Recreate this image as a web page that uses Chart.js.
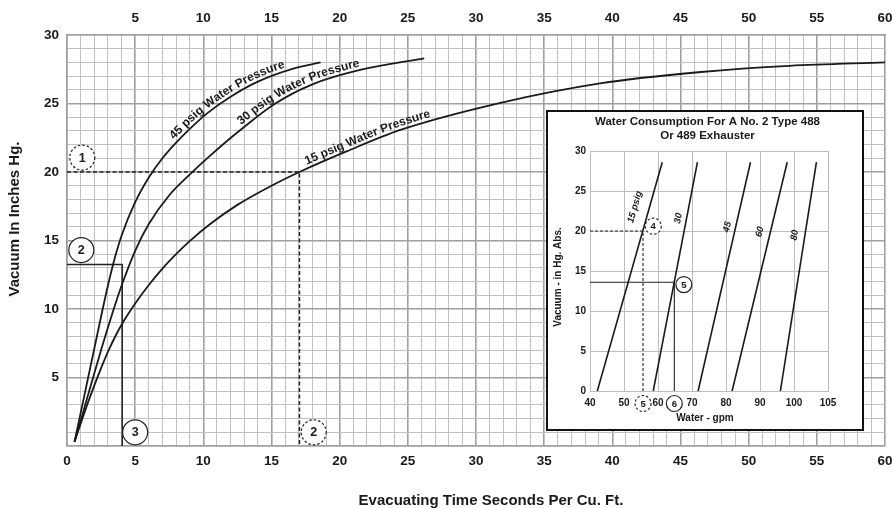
<!DOCTYPE html>
<html lang="en">
<head>
    <meta charset="UTF-8">
    <title>Evacuating Time vs Vacuum</title>
    <script src="https://cdn.jsdelivr.net/npm/chart.js"></script>
    <style>
        body {
            margin: 0;
            background: #fff;
        }
        .wrap {
            position: relative;
            width: 892px;
            height: 508px;
        }
        #mainChart {
            position: absolute;
            left: 0;
            top: 0;
        }
        .inset {
            position: absolute;
            left: 546px;
            top: 110px;
            width: 318px;
            height: 321px;
            box-sizing: border-box;
            border: 2px solid #111;
            background: #fff;
        }
        #insetChart {
            display: block;
        }
    </style>
</head>
<body>
    <div class="wrap">
        <canvas id="mainChart" width="892" height="508"></canvas>
        <div class="inset"><canvas id="insetChart" width="314" height="317"></canvas></div>
    </div>

    <script>
        // ---- main chart data (seconds per cu. ft. vs vacuum in. Hg) ----
        const curveNames = ['45 psig Water Pressure', '30 psig Water Pressure', '15 psig Water Pressure'];
        const time45 = [0.55, 1.0, 1.5, 2.0, 2.5, 3.0, 3.5, 4.0, 5.0, 6.0, 7.0, 8.5, 10.3, 12.0, 14.0, 16.6, 18.6];
        const vac45  = [0.3, 2.4, 4.75, 7.1, 9.45, 11.7, 13.7, 15.35, 17.8, 19.6, 21.0, 22.65, 24.3, 25.5, 26.6, 27.55, 28.0];
        const time30 = [0.55, 1.0, 1.5, 2.0, 2.5, 3.0, 3.5, 4.0, 5.0, 6.0, 7.5, 9.17, 10.5, 12.6, 15.2, 18.0, 21.5, 26.2];
        const vac30  = [0.3, 1.85, 3.57, 5.3, 7.0, 8.65, 10.22, 11.7, 14.25, 16.2, 18.3, 19.97, 21.19, 22.97, 24.95, 26.4, 27.45, 28.3];
        const time15 = [0.55, 1.0, 1.5, 2.0, 2.5, 3.0, 3.5, 4.0, 5.0, 6.0, 7.0, 8.0, 9.0, 10.5, 12.5, 15.0, 17.05, 20.5, 24.45, 31.8, 39.1, 46.5, 53.0, 60.0];
        const vac15  = [0.3, 1.63, 3.06, 4.41, 5.69, 6.87, 7.92, 8.85, 10.4, 11.75, 12.95, 14.0, 14.95, 16.2, 17.6, 19.0, 20.0, 21.5, 23.07, 25.05, 26.47, 27.3, 27.75, 28.0];

        // worked example guide lines
        const dashedGuideTime = [0, 17.05, 17.05];
        const dashedGuideVac  = [20, 20, 0];
        const solidGuideTime  = [0, 4.05, 4.05];
        const solidGuideVac   = [13.25, 13.25, 0];

        // numbered step markers
        const markerText   = ['1', '2', '3', '2'];
        const markerTime   = [1.12, 1.05, 5.0, 18.1];
        const markerVac    = [21.05, 14.3, 1.0, 1.0];
        const markerDashed = [true, false, false, true];

        // tick labels
        const xBottomLabels = ['0', '5', '10', '15', '20', '25', '30', '35', '40', '45', '50', '55', '60'];
        const xTopLabels    = ['5', '10', '15', '20', '25', '30', '35', '40', '45', '50', '55', '60'];
        const yLabels       = ['5', '10', '15', '20', '25', '30'];

        // ---- inset data (water consumption) ----
        const insetNames   = ['15 psig', '30', '45', '60', '80'];
        const insetGpmLow  = [42.15, 58.6, 71.8, 81.8, 96.0];
        const insetGpmHigh = [61.25, 71.6, 87.2, 98.0, 106.6];
        const insetVacLow  = 0;
        const insetVacHigh = 28.6;
        const insetNameGpm = [53.2, 66.0, 80.4, 90.0, 100.2];
        const insetNameVac = [23.0, 21.6, 20.5, 19.9, 19.5];
        const insetDashedGpm = [40, 55.6, 55.6];
        const insetDashedVac = [20, 20, 0];
        const insetSolidGpm  = [40, 64.8, 64.8];
        const insetSolidVac  = [13.6, 13.6, 0];
        const insetMarkerText   = ['4', '5'];
        const insetMarkerGpm    = [58.6, 67.6];
        const insetMarkerVac    = [20.6, 13.3];
        const insetMarkerDashed = [true, false];
        const insetAxisMarkerText   = ['5', '6'];
        const insetAxisMarkerGpm    = [55.6, 64.8];
        const insetAxisMarkerDashed = [true, false];
        const insetXTicks      = [40, 50, 60, 70, 80, 90, 100, 110];
        const insetXTickLabels = ['40', '50', '60', '70', '80', '90', '100', '105'];
        const insetYTickLabels = ['0', '5', '10', '15', '20', '25', '30'];

        const FONT = '"Liberation Sans", Arial, Helvetica, sans-serif';
        const INK = '#1a1a1a';
        const GRID_MINOR = '#c2c2c2';
        const GRID_MAJOR = '#a0a0a0';

        const toPoints = (xs, ys) => xs.map((x, i) => ({ x: x, y: ys[i] }));

        function drawMarker(ctx, x, y, r, text, dashed, fontSize) {
            ctx.save();
            ctx.beginPath();
            ctx.arc(x, y, r, 0, Math.PI * 2);
            ctx.fillStyle = '#fff';
            ctx.fill();
            ctx.lineWidth = 1.2;
            ctx.strokeStyle = '#222';
            ctx.setLineDash(dashed ? [2.5, 2] : []);
            ctx.stroke();
            ctx.setLineDash([]);
            ctx.fillStyle = INK;
            ctx.font = 'bold ' + fontSize + 'px ' + FONT;
            ctx.textAlign = 'center';
            ctx.textBaseline = 'middle';
            ctx.fillText(text, x, y + 0.5);
            ctx.restore();
        }

        // sample the drawn bezier path of a line dataset
        function curvePolyline(pts) {
            const out = [];
            for (let i = 0; i < pts.length - 1; i++) {
                const a = pts[i], b = pts[i + 1];
                const c1x = a.cp2x ?? a.x, c1y = a.cp2y ?? a.y;
                const c2x = b.cp1x ?? b.x, c2y = b.cp1y ?? b.y;
                for (let k = 0; k < 16; k++) {
                    const t = k / 16, u = 1 - t;
                    out.push({
                        x: u * u * u * a.x + 3 * u * u * t * c1x + 3 * u * t * t * c2x + t * t * t * b.x,
                        y: u * u * u * a.y + 3 * u * u * t * c1y + 3 * u * t * t * c2y + t * t * t * b.y
                    });
                }
            }
            const last = pts[pts.length - 1];
            out.push({ x: last.x, y: last.y });
            return out;
        }

        function pointAt(poly, cum, s) {
            let i = 1;
            while (i < poly.length - 1 && cum[i] < s) i++;
            const a = poly[i - 1], b = poly[i];
            const seg = (cum[i] - cum[i - 1]) || 1;
            const t = (s - cum[i - 1]) / seg;
            return { x: a.x + (b.x - a.x) * t, y: a.y + (b.y - a.y) * t, ang: Math.atan2(b.y - a.y, b.x - a.x) };
        }

        // curve labels written along the curves
        const curveLabelStart = [8.0, 12.9, 17.6];

        const mainDecor = {
            id: 'mainDecor',
            afterDatasetsDraw(chart) {
                const ctx = chart.ctx;
                const xs = chart.scales.x, ys = chart.scales.y;

                // text along curves
                ctx.save();
                ctx.fillStyle = INK;
                ctx.font = 'bold 12px ' + FONT;
                ctx.textAlign = 'center';
                ctx.textBaseline = 'alphabetic';
                curveNames.forEach((name, d) => {
                    const poly = curvePolyline(chart.getDatasetMeta(d).data);
                    const cum = [0];
                    for (let i = 1; i < poly.length; i++) {
                        cum.push(cum[i - 1] + Math.hypot(poly[i].x - poly[i - 1].x, poly[i].y - poly[i - 1].y));
                    }
                    const startPx = xs.getPixelForValue(curveLabelStart[d]);
                    let j = 0;
                    while (j < poly.length - 1 && poly[j].x < startPx) j++;
                    let s = cum[j];
                    for (const ch of name) {
                        const w = ctx.measureText(ch).width;
                        const p = pointAt(poly, cum, s + w / 2);
                        const nx = Math.sin(p.ang), ny = -Math.cos(p.ang);
                        ctx.save();
                        ctx.translate(p.x + nx * 3.5, p.y + ny * 3.5);
                        ctx.rotate(p.ang);
                        ctx.fillText(ch, 0, 0);
                        ctx.restore();
                        s += w;
                    }
                });
                ctx.restore();

                // step markers
                markerText.forEach((t, i) => {
                    drawMarker(ctx, xs.getPixelForValue(markerTime[i]), ys.getPixelForValue(markerVac[i]), 12.5, t, markerDashed[i], 12.5);
                });
            },
            afterDraw(chart) {
                const ctx = chart.ctx;
                ctx.save();
                ctx.fillStyle = INK;
                ctx.font = 'bold 15px ' + FONT;
                ctx.textAlign = 'center';
                ctx.textBaseline = 'alphabetic';
                ctx.fillText('Evacuating Time Seconds Per Cu. Ft.', 491, 505);
                ctx.translate(19, 219);
                ctx.rotate(-Math.PI / 2);
                ctx.fillText('Vacuum In Inches Hg.', 0, 0);
                ctx.restore();
            }
        };

        const gridColor = c => (c.tick && c.tick.value % 5 === 0) ? GRID_MAJOR : GRID_MINOR;
        const gridWidth = c => (c.tick && c.tick.value % 5 === 0) ? 1.6 : 1;
        const tickFont = { family: FONT, size: 13.5, weight: 'bold' };

        const curveStyle = { borderColor: INK, borderWidth: 1.8, pointRadius: 0, fill: false, cubicInterpolationMode: 'monotone' };
        const guideStyle = { borderColor: '#222', borderWidth: 1.5, pointRadius: 0, fill: false, tension: 0 };

        new Chart(document.getElementById('mainChart'), {
            type: 'line',
            data: {
                datasets: [
                    Object.assign({ label: curveNames[0], data: toPoints(time45, vac45) }, curveStyle),
                    Object.assign({ label: curveNames[1], data: toPoints(time30, vac30) }, curveStyle),
                    Object.assign({ label: curveNames[2], data: toPoints(time15, vac15) }, curveStyle),
                    Object.assign({ label: 'guide dashed', data: toPoints(dashedGuideTime, dashedGuideVac), borderDash: [4, 2.5] }, guideStyle),
                    Object.assign({ label: 'guide solid', data: toPoints(solidGuideTime, solidGuideVac) }, guideStyle)
                ]
            },
            options: {
                responsive: false,
                animation: false,
                layout: { padding: { right: 7 } },
                plugins: { legend: { display: false }, tooltip: { enabled: false } },
                scales: {
                    x: {
                        type: 'linear', position: 'bottom', min: 0, max: 60,
                        ticks: {
                            stepSize: 1, autoSkip: false, maxRotation: 0, padding: 7, color: INK, font: tickFont,
                            callback: v => xBottomLabels.includes(String(v)) ? String(v) : ''
                        },
                        grid: { color: gridColor, lineWidth: gridWidth, drawTicks: false },
                        border: { color: GRID_MAJOR, width: 1.6 },
                        afterFit: s => { s.height = 62; s.paddingLeft = 0; s.paddingRight = 0; }
                    },
                    xTop: {
                        type: 'linear', position: 'top', min: 0, max: 60,
                        ticks: {
                            stepSize: 1, autoSkip: false, maxRotation: 0, padding: 9, color: INK, font: tickFont,
                            callback: v => xTopLabels.includes(String(v)) ? String(v) : ''
                        },
                        grid: { display: false, drawTicks: false },
                        border: { color: GRID_MAJOR, width: 1.6 },
                        afterFit: s => { s.height = 35; s.paddingLeft = 0; s.paddingRight = 0; }
                    },
                    y: {
                        type: 'linear', min: 0, max: 30,
                        ticks: {
                            stepSize: 1, autoSkip: false, padding: 8, color: INK, font: tickFont,
                            callback: v => yLabels.includes(String(v)) ? String(v) : ''
                        },
                        grid: { color: gridColor, lineWidth: gridWidth, drawTicks: false },
                        border: { color: GRID_MAJOR, width: 1.6 },
                        afterFit: s => { s.width = 67; s.paddingTop = 0; s.paddingBottom = 0; }
                    }
                }
            },
            plugins: [mainDecor]
        });

        // ---- inset chart ----
        const insetDecor = {
            id: 'insetDecor',
            afterDatasetsDraw(chart) {
                const ctx = chart.ctx;
                const xs = chart.scales.x, ys = chart.scales.y;
                ctx.save();
                ctx.fillStyle = INK;
                ctx.font = 'italic bold 9.5px ' + FONT;
                ctx.textAlign = 'center';
                ctx.textBaseline = 'middle';
                insetNames.forEach((name, i) => {
                    const x0 = xs.getPixelForValue(insetGpmLow[i]), y0 = ys.getPixelForValue(insetVacLow);
                    const x1 = xs.getPixelForValue(insetGpmHigh[i]), y1 = ys.getPixelForValue(insetVacHigh);
                    ctx.save();
                    ctx.translate(xs.getPixelForValue(insetNameGpm[i]), ys.getPixelForValue(insetNameVac[i]));
                    ctx.rotate(Math.atan2(y1 - y0, x1 - x0));
                    ctx.fillText(name, 0, 0);
                    ctx.restore();
                });
                ctx.restore();

                insetMarkerText.forEach((t, i) => {
                    drawMarker(ctx, xs.getPixelForValue(insetMarkerGpm[i]), ys.getPixelForValue(insetMarkerVac[i]), 8, t, insetMarkerDashed[i], 9.5);
                });
                insetAxisMarkerText.forEach((t, i) => {
                    drawMarker(ctx, xs.getPixelForValue(insetAxisMarkerGpm[i]), chart.chartArea.bottom + 12.5, 8, t, insetAxisMarkerDashed[i], 9.5);
                });
            },
            afterDraw(chart) {
                const ctx = chart.ctx;
                ctx.save();
                ctx.fillStyle = INK;
                ctx.textAlign = 'center';
                ctx.textBaseline = 'middle';
                ctx.font = 'bold 11.5px ' + FONT;
                ctx.fillText('Water Consumption For A No. 2 Type 488', 159.5, 9.5);
                ctx.fillText('Or 489 Exhauster', 159.5, 24);
                ctx.font = 'bold 10px ' + FONT;
                ctx.fillText('Water - gpm', 157, 306.5);
                ctx.translate(10.5, 165);
                ctx.rotate(-Math.PI / 2);
                ctx.fillText('Vacuum - in Hg. Abs.', 0, 0);
                ctx.restore();
            }
        };

        const insetDatasets = insetNames.map((name, i) => ({
            label: name,
            data: [{ x: insetGpmLow[i], y: insetVacLow }, { x: insetGpmHigh[i], y: insetVacHigh }],
            borderColor: INK, borderWidth: 1.6, pointRadius: 0, fill: false, tension: 0
        }));
        insetDatasets.push(Object.assign({ label: 'guide dashed', data: toPoints(insetDashedGpm, insetDashedVac), borderDash: [3, 2] }, guideStyle, { borderWidth: 1.1 }));
        insetDatasets.push(Object.assign({ label: 'guide solid', data: toPoints(insetSolidGpm, insetSolidVac) }, guideStyle, { borderWidth: 1.1 }));

        const insetTickFont = { family: FONT, size: 10, weight: 'bold' };

        new Chart(document.getElementById('insetChart'), {
            type: 'line',
            data: { datasets: insetDatasets },
            options: {
                responsive: false,
                animation: false,
                layout: { padding: { top: 39, right: 34 } },
                plugins: { legend: { display: false }, tooltip: { enabled: false } },
                scales: {
                    x: {
                        type: 'linear', min: 40, max: 110,
                        afterBuildTicks: s => { s.ticks = insetXTicks.map(v => ({ value: v })); },
                        ticks: {
                            autoSkip: false, maxRotation: 0, padding: 6, color: INK, font: insetTickFont,
                            callback: v => insetXTickLabels[insetXTicks.indexOf(v)]
                        },
                        grid: { color: '#bdbdbd', lineWidth: 1, drawTicks: false },
                        border: { color: '#bdbdbd' },
                        afterFit: s => { s.height = 38; s.paddingLeft = 0; s.paddingRight = 0; }
                    },
                    y: {
                        type: 'linear', min: 0, max: 30,
                        ticks: {
                            stepSize: 5, autoSkip: false, padding: 4, color: INK, font: insetTickFont,
                            callback: v => insetYTickLabels.includes(String(v)) ? String(v) : ''
                        },
                        grid: { color: '#bdbdbd', lineWidth: 1, drawTicks: false },
                        border: { color: '#bdbdbd' },
                        afterFit: s => { s.width = 42; s.paddingTop = 0; s.paddingBottom = 0; }
                    }
                }
            },
            plugins: [insetDecor]
        });
    </script>
</body>
</html>
